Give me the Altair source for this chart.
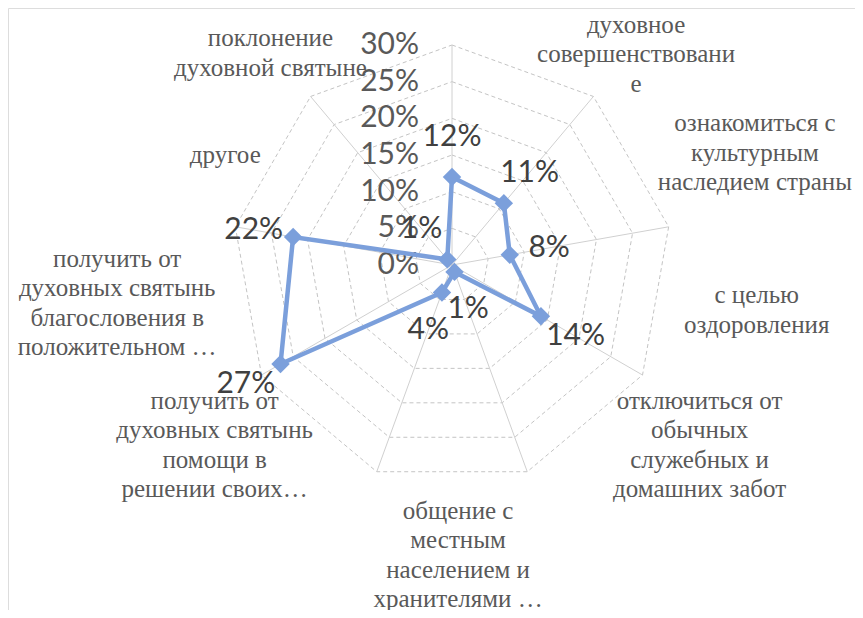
import math
import altair as alt
import pandas as pd

# ---------------- data ----------------
categories = [
    "поклонение\nдуховной святыне",
    "духовное\nсовершенствовани\nе",
    "ознакомиться с\nкультурным\nнаследием страны",
    "с целью\nоздоровления",
    "отключиться от\nобычных\nслужебных и\nдомашних забот",
    "общение с\nместным\nнаселением и\nхранителями …",
    "получить от\nдуховных святынь\nпомощи в\nрешении своих…",
    "получить от\nдуховных святынь\nблагословения в\nположительном …",
    "другое",
]
values = [12, 11, 8, 14, 1, 4, 27, 22, 1]
value_labels = ["12%", "11%", "8%", "14%", "1%", "4%", "27%", "22%", "1%"]
tick_values = [0, 5, 10, 15, 20, 25, 30]
tick_labels = ["0%", "5%", "10%", "15%", "20%", "25%", "30%"]

# ---------------- layout ----------------
W, H = 847, 602          # drawing area
CX, CY = 444, 257        # centre of the radar in px
RMAX_PX = 220            # radius of the 30% ring in px
VMAX = 30
PX = RMAX_PX / VMAX      # px per percent
DATA_LABEL_GAP = 40      # px between marker and its value label
LINE_H = 29.5            # line height of category labels
# category label placement: (angle in degrees clockwise from top, distance px)
label_place = [(319.4, 279), (41.1, 280), (69.7, 323), (98.4, 308), (126.0, 306),
               (178.8, 290), (232.8, 298), (263.5, 337), (295.9, 252)]

N = len(categories)
angles = [360.0 * k / N for k in range(N)]


def polar(r, deg):
    a = math.radians(deg)
    return r * math.sin(a), r * math.cos(a)


# rings
ring_rows = []
for lv in tick_values[1:]:
    for k in range(N + 1):
        x, y = polar(lv, angles[k % N])
        ring_rows.append({"lv": lv, "k": k, "x": x, "y": y})
rings = pd.DataFrame(ring_rows)

# spokes
spoke_rows = []
for k in range(N):
    x, y = polar(VMAX, angles[k])
    spoke_rows.append({"x": 0.0, "y": 0.0, "x2": x, "y2": y})
spokes = pd.DataFrame(spoke_rows)

# series (closed polygon)
ser_rows = []
for k in range(N + 1):
    v = values[k % N]
    x, y = polar(v, angles[k % N])
    ser_rows.append({"k": k, "x": x, "y": y})
series = pd.DataFrame(ser_rows)

pts = pd.DataFrame([{"x": polar(values[k], angles[k])[0],
                     "y": polar(values[k], angles[k])[1]} for k in range(N)])

lab_rows = []
for k in range(N):
    r = values[k] + DATA_LABEL_GAP / PX
    x, y = polar(r, angles[k])
    lab_rows.append({"x": x, "y": y, "t": value_labels[k]})
vlabels = pd.DataFrame(lab_rows)

cat_rows = []
for k in range(N):
    ang, dist = label_place[k]
    x, y = polar(dist / PX, ang)
    n_lines = categories[k].count("\n") + 1
    # Vega anchors the first line; shift so the block is centred on the point
    y += (n_lines - 1) * LINE_H / 2 / PX
    cat_rows.append({"x": x, "y": y, "t": categories[k]})
clabels = pd.DataFrame(cat_rows)

ticks = pd.DataFrame({"x": [0.0] * len(tick_values), "y": tick_values, "t": tick_labels})

xs = alt.Scale(domain=[-CX / PX, (W - CX) / PX], nice=False, zero=False)
ys = alt.Scale(domain=[-(H - CY) / PX, CY / PX], nice=False, zero=False)
X = lambda f="x": alt.X(f"{f}:Q", scale=xs, axis=None)
Y = lambda f="y": alt.Y(f"{f}:Q", scale=ys, axis=None)

GRID = "#c4c4c4"
BLUE = "#7b9fdb"

ring_layer = alt.Chart(rings).mark_line(color=GRID, strokeWidth=1, strokeDash=[4, 3]).encode(
    x=X(), y=Y(), detail="lv:N", order="k:Q")

spoke_layer = alt.Chart(spokes).mark_rule(color="#d0d0d0", strokeWidth=1).encode(
    x=X(), y=Y(), x2="x2:Q", y2="y2:Q")

tick_layer = alt.Chart(ticks).mark_text(
    font="Lato", fontSize=30, color="#595959", align="right", baseline="middle", dx=-33
).encode(x=X(), y=Y(), text="t:N")

line_layer = alt.Chart(series).mark_line(color=BLUE, strokeWidth=4.5, strokeJoin="miter").encode(
    x=X(), y=Y(), order="k:Q")

pt_layer = alt.Chart(pts).mark_point(shape="diamond", filled=True, size=340, color=BLUE, opacity=1).encode(
    x=X(), y=Y())

vlab_layer = alt.Chart(vlabels).mark_text(
    font="Lato", fontSize=30, color="#404040", align="center", baseline="middle"
).encode(x=X(), y=Y(), text="t:N")

cat_layer = alt.Chart(clabels).mark_text(
    font="Liberation Serif", fontSize=25, color="#595959", align="center", baseline="middle",
    lineBreak="\n", lineHeight=LINE_H
).encode(x=X(), y=Y(), text="t:N")

chart = alt.layer(
    ring_layer, spoke_layer, tick_layer, line_layer, pt_layer, vlab_layer, cat_layer
).properties(
    width=W, height=H, padding=0, autosize=alt.AutoSizeParams(type="none")
).configure_view(stroke=None).configure(background="white")

chart.save("out.html", embed_options={"renderer": "svg", "actions": False})
